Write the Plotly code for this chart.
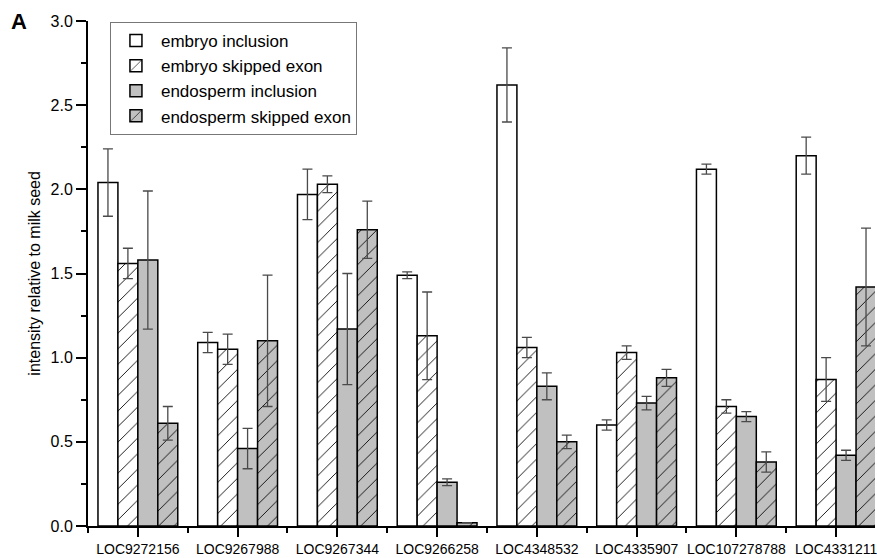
import plotly.graph_objects as go

genes = ["LOC9272156", "LOC9267988", "LOC9267344", "LOC9266258",
         "LOC4348532", "LOC4335907", "LOC107278788", "LOC4331211"]

embryo_inclusion = [2.04, 1.09, 1.97, 1.49, 2.62, 0.60, 2.12, 2.20]
embryo_inclusion_err = [0.20, 0.06, 0.15, 0.02, 0.22, 0.03, 0.03, 0.11]

embryo_skipped = [1.56, 1.05, 2.03, 1.13, 1.06, 1.03, 0.71, 0.87]
embryo_skipped_err = [0.09, 0.09, 0.05, 0.26, 0.06, 0.04, 0.04, 0.13]

endosperm_inclusion = [1.58, 0.46, 1.17, 0.26, 0.83, 0.73, 0.65, 0.42]
endosperm_inclusion_err = [0.41, 0.12, 0.33, 0.02, 0.08, 0.04, 0.03, 0.03]

endosperm_skipped = [0.61, 1.10, 1.76, 0.02, 0.50, 0.88, 0.38, 1.42]
endosperm_skipped_err = [0.10, 0.39, 0.17, 0.00, 0.04, 0.05, 0.06, 0.35]

y_ticks = [0.0, 0.5, 1.0, 1.5, 2.0, 2.5, 3.0]

FONT = "Liberation Sans, Arial, sans-serif"
xpos = list(range(len(genes)))

series = [
    ("embryo inclusion", embryo_inclusion, embryo_inclusion_err, "white", ""),
    ("embryo skipped exon", embryo_skipped, embryo_skipped_err, "white", "/"),
    ("endosperm inclusion", endosperm_inclusion, endosperm_inclusion_err, "#c0c0c0", ""),
    ("endosperm skipped exon", endosperm_skipped, endosperm_skipped_err, "#c0c0c0", "/"),
]

fig = go.Figure()
for name, vals, errs, col, shape in series:
    marker = dict(color=col, line=dict(color="black", width=1.5))
    if shape:
        marker["pattern"] = dict(shape=shape, fgcolor="black", bgcolor=col,
                                 fillmode="replace", size=11, solidity=0.08)
    fig.add_trace(go.Bar(
        x=xpos, y=vals, name=name, marker=marker,
        error_y=dict(type="data", array=errs, visible=True,
                     color="#4a4a4a", thickness=1.3, width=5),
    ))

fig.update_layout(
    width=877, height=558,
    margin=dict(l=88, r=0, t=21, b=32),
    paper_bgcolor="white", plot_bgcolor="white",
    barmode="group", bargap=0.2, bargroupgap=0,
    font=dict(family=FONT, color="black"),
    showlegend=True,
    legend=dict(x=(110 - 88) / 789, y=0.998, xanchor="left", yanchor="top",
                bordercolor="#777777", borderwidth=1, bgcolor="white",
                font=dict(size=17, family=FONT), tracegroupgap=0,
                itemwidth=40),
    xaxis=dict(
        range=[-0.5, 7.39], tickmode="array", tickvals=xpos, ticktext=genes,
        ticks="outside", ticklen=9, tickwidth=2, tickcolor="black",
        showline=True, linecolor="black", linewidth=2, showgrid=False,
        zeroline=False, tickfont=dict(size=14, family=FONT),
        ticklabeloverflow="allow",
        minor=dict(tick0=0.5, dtick=1, ticks="outside", ticklen=5,
                   tickwidth=2, tickcolor="black", showgrid=False),
    ),
    yaxis=dict(
        range=[0, 3.0], tickmode="array", tickvals=y_ticks,
        ticktext=[f"{v:.1f}" for v in y_ticks],
        ticks="outside", ticklen=10, tickwidth=2, tickcolor="black",
        showline=True, linecolor="black", linewidth=2, showgrid=False,
        zeroline=False, tickfont=dict(size=16, family=FONT),
        minor=dict(dtick=0.25, tick0=0, ticks="outside", ticklen=5,
                   tickwidth=2, tickcolor="black", showgrid=False),
    ),
    annotations=[
        dict(text="intensity relative to milk seed", textangle=-90,
             xref="paper", yref="paper", x=(34 - 88) / 789, y=0.5,
             xanchor="center", yanchor="middle", showarrow=False,
             font=dict(size=16, family=FONT)),
        dict(text="<b>A</b>", xref="paper", yref="paper",
             x=(9 - 88) / 789, y=1.0, xanchor="left", yanchor="middle",
             showarrow=False, font=dict(size=22, family=FONT)),
    ],
)

fig.write_html(
    "out.html",
    config={"displayModeBar": False},
    post_script="document.body.style.margin='0';document.body.style.padding='0';",
)
